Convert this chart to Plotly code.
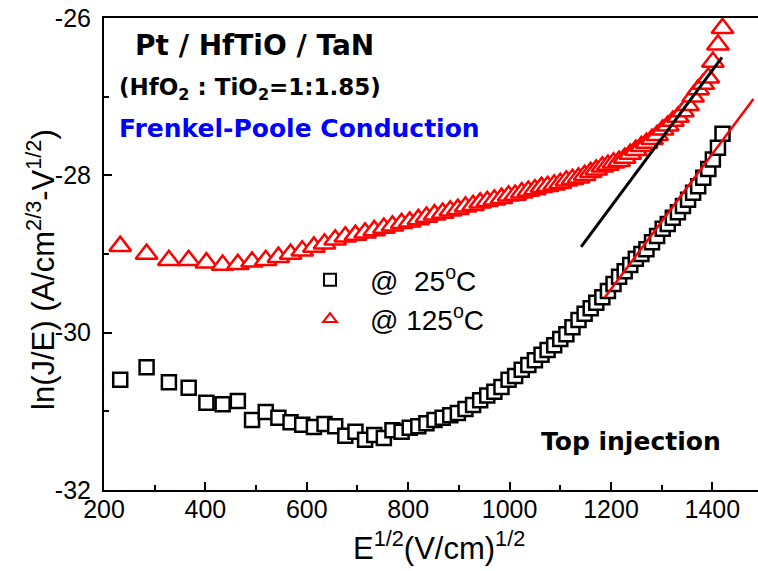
import plotly.graph_objects as go

# Field axis, sqrt(E) in (V/cm)^1/2
sqrt_e = [232, 284, 328, 367, 402, 434, 464, 492, 519, 544,
          568, 591, 614, 635, 656, 676, 696, 715, 733, 752,
          769, 787, 803, 820, 836, 852, 868, 883, 898, 913,
          928, 942, 956, 970, 984, 998, 1011, 1024, 1037, 1050,
          1063, 1075, 1088, 1100, 1112, 1124, 1136, 1148, 1160, 1171,
          1183, 1194, 1205, 1216, 1227, 1238, 1249, 1260, 1270, 1281,
          1291, 1302, 1312, 1322, 1332, 1342, 1352, 1362, 1372, 1382,
          1392, 1401, 1411, 1420]

# ln(J/E) at 25 C
ln_je_25c = [-30.60, -30.44, -30.63, -30.70, -30.89, -30.91, -30.87, -31.11, -31.01, -31.08,
             -31.14, -31.17, -31.20, -31.16, -31.19, -31.31, -31.26, -31.36, -31.30, -31.34,
             -31.24, -31.26, -31.21, -31.19, -31.15, -31.11, -31.08, -31.05, -31.02, -30.97,
             -30.92, -30.86, -30.80, -30.75, -30.69, -30.60, -30.55, -30.47, -30.41, -30.35,
             -30.28, -30.22, -30.16, -30.08, -30.02, -29.93, -29.84, -29.76, -29.69, -29.62,
             -29.55, -29.47, -29.38, -29.29, -29.22, -29.14, -29.06, -29.00, -28.94, -28.85,
             -28.77, -28.68, -28.62, -28.54, -28.47, -28.39, -28.31, -28.22, -28.14, -28.03,
             -27.92, -27.80, -27.65, -27.47]

# ln(J/E) at 125 C
ln_je_125c = [-28.90, -29.00, -29.08, -29.08, -29.11, -29.14, -29.13, -29.10, -29.08, -29.04,
              -29.00, -28.96, -28.91, -28.87, -28.82, -28.78, -28.76, -28.73, -28.70, -28.67,
              -28.64, -28.61, -28.59, -28.56, -28.53, -28.50, -28.48, -28.45, -28.43, -28.40,
              -28.38, -28.35, -28.33, -28.31, -28.29, -28.26, -28.25, -28.22, -28.20, -28.18,
              -28.15, -28.14, -28.12, -28.10, -28.07, -28.05, -28.03, -28.00, -27.96, -27.93,
              -27.89, -27.87, -27.84, -27.82, -27.78, -27.73, -27.68, -27.63, -27.59, -27.54,
              -27.49, -27.42, -27.37, -27.31, -27.26, -27.19, -27.11, -27.00, -26.91, -26.84,
              -26.76, -26.56, -26.34, -26.13]

# Linear Frenkel-Poole fits (end points)
fit_125c_x = [1141, 1419]
fit_125c_y = [-28.91, -26.50]
fit_25c_x = [1188, 1481]
fit_25c_y = [-29.55, -27.03]

x_ticks = [200, 400, 600, 800, 1000, 1200, 1400]
y_ticks = [-32, -30, -28, -26]
y_tick_text = ["-32", "-30", "-28", "-26"]

FONT = "Liberation Sans, Arial, sans-serif"
BOLD_FONT = "DejaVu Sans, Arial, sans-serif"

fig = go.Figure()

fig.add_trace(go.Scatter(
    x=sqrt_e, y=ln_je_25c, mode="markers",
    name="@\u00a0\u00a025<sup>o</sup>C",
    legendgroup="a",
    marker=dict(symbol="square", size=14, color="white",
                line=dict(color="black", width=2.5)),
))
fig.add_trace(go.Scatter(
    x=sqrt_e, y=ln_je_125c, mode="markers",
    name="@\u00a0125<sup>o</sup>C",
    legendgroup="b",
    marker=dict(symbol="triangle-up", size=19, color="white",
                line=dict(color="red", width=2.5)),
))
fig.add_trace(go.Scatter(
    x=fit_125c_x, y=fit_125c_y, mode="lines", showlegend=False,
    line=dict(color="black", width=3),
))
fig.add_trace(go.Scatter(
    x=fit_25c_x, y=fit_25c_y, mode="lines", showlegend=False,
    line=dict(color="red", width=2.5),
))

L, T, B = 104, 18, 81
W, H = 758, 571
pw, ph = W - L, H - T - B


def px(xp):
    return (xp - L) / pw


def py(yp):
    return (H - B - yp) / ph


annotations = [
    dict(text="<b>Pt / HfTiO / TaN</b>", x=px(133), y=py(46),
         font=dict(size=28, color="black", family=BOLD_FONT)),
    dict(text="<b>(HfO<sub>2</sub> : TiO<sub>2</sub>=1:1.85)</b>", x=px(117), y=py(89),
         font=dict(size=23, color="black", family=BOLD_FONT)),
    dict(text="<b>Frenkel-Poole Conduction</b>", x=px(117), y=py(128),
         font=dict(size=25, color="#0000ff", family=BOLD_FONT)),
    dict(text="<b>Top injection</b>", x=px(539), y=py(441),
         font=dict(size=25, color="black", family=BOLD_FONT)),
]
for a in annotations:
    a.update(xref="paper", yref="paper", xanchor="left", yanchor="middle",
             showarrow=False)

# axis titles
annotations.append(dict(
    text="E<sup>1/2</sup>(V/cm)<sup>1/2</sup>", x=px(439), y=py(546),
    xref="paper", yref="paper", xanchor="center", yanchor="middle",
    showarrow=False, font=dict(size=31, family=FONT, color="black")))
annotations.append(dict(
    text="ln(J/E) (A/cm<sup>2/3</sup>-V<sup>1/2</sup>)", x=px(41), y=py(270),
    xref="paper", yref="paper", xanchor="center", yanchor="middle",
    textangle=-90, showarrow=False,
    font=dict(size=31, family=FONT, color="black")))

fig.update_layout(
    width=W, height=H,
    margin=dict(l=L, r=0, t=T, b=B, pad=0),
    paper_bgcolor="white", plot_bgcolor="white",
    font=dict(family=FONT, size=25, color="black"),
    annotations=annotations,
    showlegend=True,
    legend=dict(x=px(290), y=py(255), xanchor="left", yanchor="top",
                bgcolor="rgba(0,0,0,0)", font=dict(size=28, family=FONT),
                itemsizing="constant", itemwidth=70, tracegroupgap=0),
    xaxis=dict(
        range=[200, 1490], tickvals=x_ticks, ticks="inside", ticklen=8,
        tickwidth=2, tickcolor="black",
        minor=dict(dtick=100, tick0=200, ticks="inside", ticklen=5,
                   tickwidth=2, tickcolor="black"),
        showline=True, linewidth=2, linecolor="black", mirror=True,
        showgrid=False, zeroline=False,
        tickfont=dict(size=25, family=FONT), ticklabelstandoff=-4,
        automargin=False,
    ),
    yaxis=dict(
        range=[-32, -26], tickvals=y_ticks, ticktext=y_tick_text,
        ticks="inside", ticklen=8, tickwidth=2, tickcolor="black",
        minor=dict(dtick=1, tick0=-32, ticks="inside", ticklen=5,
                   tickwidth=2, tickcolor="black"),
        showline=True, linewidth=2, linecolor="black",
        showgrid=False, zeroline=False,
        tickfont=dict(size=25, family=FONT), ticklabelstandoff=6,
        automargin=False,
    ),
)

fig.write_html("out.html")
